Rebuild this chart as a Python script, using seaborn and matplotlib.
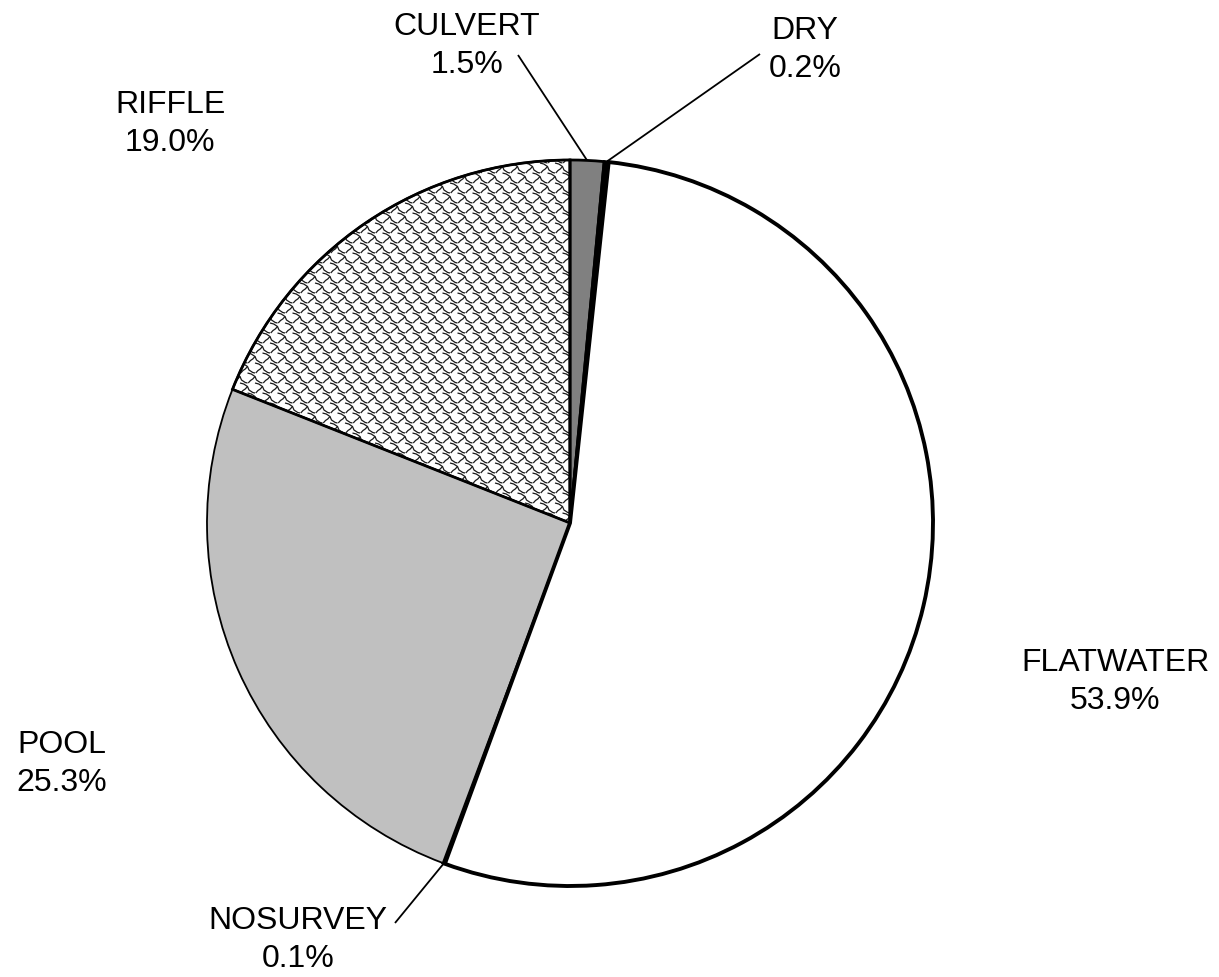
import seaborn as sns
import matplotlib.pyplot as plt
import numpy as np
from matplotlib.collections import LineCollection
from matplotlib.patches import Wedge

# habitat share by unit type (percent of surveyed length)
categories = ['CULVERT', 'DRY', 'FLATWATER', 'NOSURVEY', 'POOL', 'RIFFLE']
shares = [1.5, 0.2, 53.9, 0.1, 25.3, 19.0]
fills = ['#808080', '#000000', '#ffffff', '#ffffff', '#c0c0c0', '#ffffff']
edge_widths = [2.0, 2.0, 2.8, 2.0, 1.3, 1.6]

sns.set_theme(style="white")
plt.rcParams['font.family'] = ['Liberation Sans', 'DejaVu Sans']

# pie centre / radius in figure pixels (top-left origin)
CX, CY, R = 570, 523, 363
W, H = 1219, 977


def px(x, y):
    return ((x - CX) / R, (CY - y) / R)


fig = plt.figure(figsize=(W / 100, H / 100), dpi=100)
ax = fig.add_axes([0, 0, 1, 1])
wedges, _ = ax.pie(shares, colors=fills, startangle=90, counterclock=False,
                   radius=1, center=(0, 0),
                   wedgeprops=dict(edgecolor='black'))
for w, lw in zip(wedges, edge_widths):
    w.set_linewidth(lw)
    w.set_zorder(2)
wedges[categories.index('FLATWATER')].set_zorder(4)

# shingle-like texture on the riffle wedge
rif = wedges[categories.index('RIFFLE')]
rif.set_zorder(1)
cw, ch = 15 / R, 10 / R
motif = np.array([[0, 0], [0.25, -0.1], [0.5, -0.35], [0.6, -0.7], [0.85, -0.95],
                  [1.0, -1.0]])
hook = np.array([[0.5, -0.35], [0.35, -0.6], [0.2, -0.75], [0.05, -1.0]])
segs = []
for j in range(-5, 45):
    for i in range(-45, 5):
        ox = i * cw + (j % 2) * cw / 2
        oy = j * ch
        if ox < 0.05 and oy > -0.1 and ox * ox + oy * oy < 1.1:
            segs.append(np.column_stack([ox + motif[:, 0] * cw, oy + motif[:, 1] * ch]))
            segs.append(np.column_stack([ox + hook[:, 0] * cw, oy + hook[:, 1] * ch]))
lc = LineCollection(segs, colors='#1a1a1a', linewidths=0.9, zorder=1.5)
ax.add_collection(lc)
lc.set_clip_path(rif)
ax.add_patch(Wedge(rif.center, rif.r, rif.theta1, rif.theta2, fill=False,
                   edgecolor='black', linewidth=2.0, zorder=3))

# label block centres (pixels) and leader-line start points
label_pos = {'CULVERT': (467, 46), 'DRY': (805, 50), 'FLATWATER': (1115, 682),
             'NOSURVEY': (298, 940), 'POOL': (62, 764), 'RIFFLE': (170, 124)}
leader_from = {'CULVERT': (518, 55), 'DRY': (760, 54), 'NOSURVEY': (395, 923)}

for cat, val, w in zip(categories, shares, wedges):
    x, y = px(*label_pos[cat])
    ax.text(x, y, f"{cat}\n{val:.1f}%", ha='center', va='center',
            fontsize=23, linespacing=1.36, color='black', zorder=5)
    if cat in leader_from:
        mid = np.deg2rad((w.theta1 + w.theta2) / 2)
        sx, sy = px(*leader_from[cat])
        ax.plot([sx, np.cos(mid)], [sy, np.sin(mid)], color='black',
                lw=1.3, zorder=5, solid_capstyle='butt')

ax.set_xlim(-CX / R, (W - CX) / R)
ax.set_ylim(-(H - CY) / R, CY / R)
ax.set_aspect('equal')
ax.axis('off')
fig.savefig('out.png', dpi=100, facecolor='white')
